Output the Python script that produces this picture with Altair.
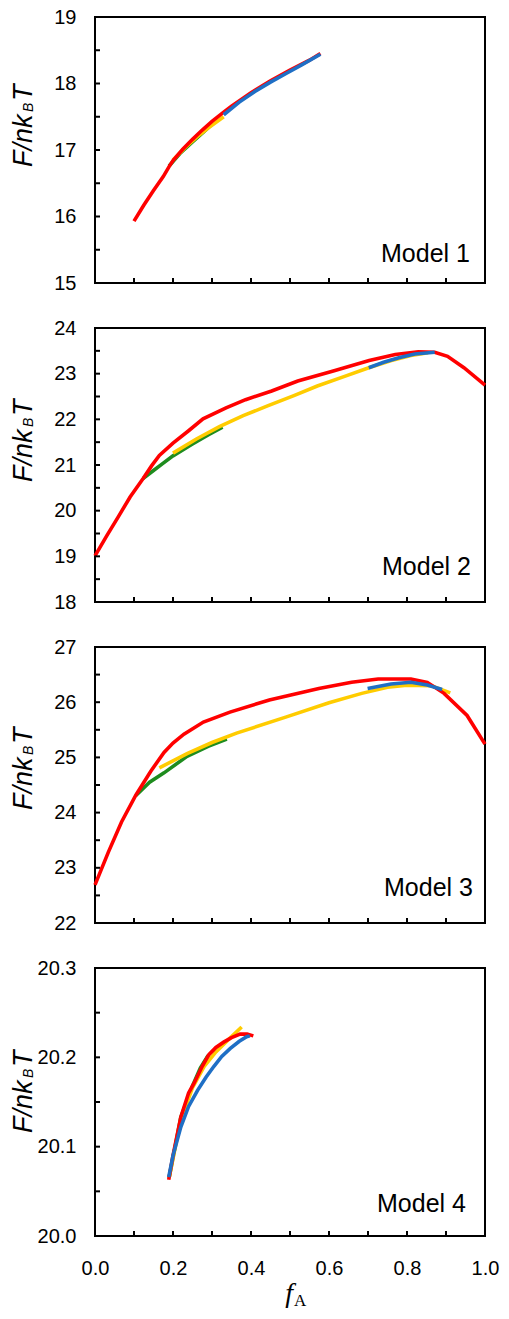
import altair as alt
import pandas as pd

# ---------------- data ----------------
# Model 1
m1_red_f = [0.10, 0.125, 0.15, 0.175, 0.19, 0.20, 0.225, 0.25, 0.275, 0.30, 0.33, 0.35, 0.40, 0.43, 0.45, 0.50, 0.55, 0.578]
m1_red_F = [15.93, 16.17, 16.39, 16.60, 16.75, 16.84, 17.01, 17.16, 17.30, 17.43, 17.57, 17.66, 17.86, 17.97, 18.04, 18.20, 18.35, 18.45]
m1_green_f = [0.19, 0.22, 0.25, 0.28, 0.30]
m1_green_F = [16.76, 16.96, 17.12, 17.28, 17.39]
m1_yellow_f = [0.20, 0.23, 0.26, 0.29, 0.33]
m1_yellow_F = [16.85, 17.03, 17.19, 17.33, 17.50]
m1_blue_f = [0.33, 0.37, 0.41, 0.45, 0.49, 0.53, 0.578]
m1_blue_F = [17.53, 17.72, 17.88, 18.02, 18.15, 18.28, 18.44]

# Model 2
m2_red_f = [0.0, 0.03, 0.06, 0.09, 0.123, 0.145, 0.165, 0.20, 0.24, 0.277, 0.336, 0.386, 0.453, 0.52, 0.611, 0.703, 0.77, 0.829, 0.871, 0.904, 0.946, 1.0]
m2_red_F = [19.01, 19.45, 19.87, 20.30, 20.70, 20.98, 21.21, 21.48, 21.75, 22.01, 22.25, 22.43, 22.62, 22.84, 23.06, 23.29, 23.42, 23.48, 23.47, 23.38, 23.13, 22.75]
m2_green_f = [0.123, 0.15, 0.175, 0.20, 0.25, 0.29, 0.327]
m2_green_F = [20.70, 20.88, 21.04, 21.20, 21.46, 21.66, 21.83]
m2_yellow_f = [0.20, 0.26, 0.319, 0.38, 0.444, 0.51, 0.57, 0.64, 0.702, 0.76, 0.81, 0.854]
m2_yellow_F = [21.26, 21.57, 21.84, 22.08, 22.30, 22.52, 22.73, 22.94, 23.13, 23.29, 23.40, 23.46]
m2_blue_f = [0.702, 0.74, 0.779, 0.82, 0.871]
m2_blue_F = [23.13, 23.25, 23.35, 23.43, 23.47]

# Model 3
m3_red_f = [0.0, 0.034, 0.068, 0.105, 0.143, 0.177, 0.20, 0.228, 0.278, 0.346, 0.447, 0.574, 0.658, 0.726, 0.81, 0.852, 0.895, 0.954, 1.0]
m3_red_F = [22.69, 23.28, 23.83, 24.32, 24.75, 25.09, 25.26, 25.42, 25.64, 25.82, 26.04, 26.25, 26.36, 26.42, 26.42, 26.36, 26.16, 25.76, 25.24]
m3_green_f = [0.105, 0.14, 0.177, 0.236, 0.29, 0.338]
m3_green_F = [24.31, 24.55, 24.72, 25.02, 25.20, 25.33]
m3_yellow_f = [0.165, 0.236, 0.30, 0.363, 0.489, 0.60, 0.684, 0.75, 0.80, 0.861, 0.911]
m3_yellow_F = [24.81, 25.07, 25.27, 25.44, 25.73, 25.99, 26.16, 26.27, 26.31, 26.30, 26.17]
m3_blue_f = [0.699, 0.759, 0.81, 0.852, 0.89]
m3_blue_F = [26.25, 26.33, 26.36, 26.31, 26.23]

# Model 4
m4_red_f = [0.189, 0.20, 0.22, 0.24, 0.254, 0.275, 0.292, 0.31, 0.33, 0.35, 0.372, 0.39, 0.406]
m4_red_F = [20.063, 20.09, 20.133, 20.16, 20.171, 20.19, 20.203, 20.211, 20.217, 20.222, 20.226, 20.226, 20.224]
m4_green_f = [0.19, 0.22, 0.25, 0.27, 0.29]
m4_green_F = [20.065, 20.133, 20.168, 20.188, 20.202]
m4_yellow_f = [0.19, 0.22, 0.25, 0.28, 0.31, 0.34, 0.376]
m4_yellow_F = [20.065, 20.13, 20.166, 20.19, 20.206, 20.219, 20.234]
m4_blue_f = [0.189, 0.20, 0.22, 0.24, 0.263, 0.285, 0.305, 0.325, 0.347, 0.37, 0.389, 0.397]
m4_blue_F = [20.066, 20.09, 20.122, 20.145, 20.163, 20.178, 20.19, 20.201, 20.21, 20.218, 20.223, 20.224]

model_labels = ["Model 1", "Model 2", "Model 3", "Model 4"]
y_domains = [[15, 19], [18, 24], [22, 27], [20.0, 20.3]]
y_label_values = [[15, 16, 17, 18, 19], [18, 19, 20, 21, 22, 23, 24],
                  [22, 23, 24, 25, 26, 27], [20.0, 20.1, 20.2, 20.3]]
y_tick_values = [[15, 15.5, 16, 16.5, 17, 17.5, 18, 18.5, 19],
                 [18, 18.5, 19, 19.5, 20, 20.5, 21, 21.5, 22, 22.5, 23, 23.5, 24],
                 [22, 22.5, 23, 23.5, 24, 24.5, 25, 25.5, 26, 26.5, 27],
                 [20.0, 20.05, 20.1, 20.15, 20.2, 20.25, 20.3]]
y_formats = ["d", "d", "d", ".1f"]
x_label_values = [0.0, 0.2, 0.4, 0.6, 0.8, 1.0]
x_tick_values = [0.0, 0.1, 0.2, 0.3, 0.4, 0.5, 0.6, 0.7, 0.8, 0.9, 1.0]

colors = {"green": "#1E8C1E", "yellow": "#FFCC00", "red": "#FF0000", "blue": "#1F6FC5"}
draw_order = ["green", "yellow", "red", "blue"]

series = [
    {"red": (m1_red_f, m1_red_F), "green": (m1_green_f, m1_green_F),
     "yellow": (m1_yellow_f, m1_yellow_F), "blue": (m1_blue_f, m1_blue_F)},
    {"red": (m2_red_f, m2_red_F), "green": (m2_green_f, m2_green_F),
     "yellow": (m2_yellow_f, m2_yellow_F), "blue": (m2_blue_f, m2_blue_F)},
    {"red": (m3_red_f, m3_red_F), "green": (m3_green_f, m3_green_F),
     "yellow": (m3_yellow_f, m3_yellow_F), "blue": (m3_blue_f, m3_blue_F)},
    {"red": (m4_red_f, m4_red_F), "green": (m4_green_f, m4_green_F),
     "yellow": (m4_yellow_f, m4_yellow_F), "blue": (m4_blue_f, m4_blue_F)},
]

# ---------------- layout / style ----------------
W = 390
heights = [266, 274, 276, 268]
label_right = [15, 14, 12, 19]
label_bottom = [21, 27, 27, 24]
title_start = [150, 154, 163, 165]
SANS = "Liberation Sans"
SERIF = "Liberation Serif"


def one_text(txt, **kw):
    return alt.Chart(pd.DataFrame({"t": [txt]})).mark_text(**kw)


def panel(i, bottom=False):
    h = heights[i]
    xs = alt.Scale(domain=[0, 1], nice=False, zero=False)
    ys = alt.Scale(domain=y_domains[i], nice=False, zero=False)
    yaxis = alt.Axis(values=y_label_values[i], format=y_formats[i], ticks=False,
                     domain=False, grid=False, labelPadding=19, title=None,
                     labelFontSize=20, labelFont=SANS, labelColor="black",
                     labelOverlap=False, labelFlush=False)
    if bottom:
        xaxis = alt.Axis(values=x_label_values, format=".1f", ticks=False,
                         domain=False, grid=False, labelPadding=22, title=None,
                         labelFontSize=20, labelFont=SANS, labelColor="black",
                         labelOverlap=False, labelFlush=False)
    else:
        xaxis = None

    layers = []
    for name in draw_order:
        fx, fy = series[i][name]
        df = pd.DataFrame({"f": fx, "F": fy})
        layers.append(
            alt.Chart(df).mark_line(color=colors[name], strokeWidth=3.6)
            .encode(x=alt.X("f:Q", scale=xs, axis=xaxis),
                    y=alt.Y("F:Q", scale=ys, axis=yaxis))
        )
    # inward ticks on the y axis
    layers.append(
        alt.Chart(pd.DataFrame({"F": y_tick_values[i]})).mark_rule(color="black", strokeWidth=2)
        .encode(y=alt.Y("F:Q", scale=ys, axis=yaxis), x=alt.value(0), x2=alt.value(5))
    )
    # inward ticks on the x axis
    layers.append(
        alt.Chart(pd.DataFrame({"f": x_tick_values})).mark_rule(color="black", strokeWidth=2)
        .encode(x=alt.X("f:Q", scale=xs, axis=xaxis), y=alt.value(h), y2=alt.value(h - 5))
    )
    # model label
    layers.append(
        one_text(model_labels[i], align="right", baseline="alphabetic", fontSize=25,
                 font=SANS, color="black")
        .encode(text="t:N", x=alt.value(W - label_right[i]), y=alt.value(h - label_bottom[i]))
    )
    # y title  F/nk_B T
    t0 = title_start[i]
    common = dict(angle=270, align="left", baseline="alphabetic", font=SANS,
                  fontStyle="italic", color="black")
    layers.append(one_text("F/nk", fontSize=27, **common)
                  .encode(text="t:N", x=alt.value(-63), y=alt.value(t0)))
    layers.append(one_text("B", fontSize=14, **common)
                  .encode(text="t:N", x=alt.value(-62), y=alt.value(t0 - 55)))
    layers.append(one_text("T", fontSize=27, **common)
                  .encode(text="t:N", x=alt.value(-63), y=alt.value(t0 - 66)))
    if bottom:
        layers.append(one_text("f", fontSize=28, font=SERIF, fontStyle="italic",
                               align="right", baseline="alphabetic", color="black")
                      .encode(text="t:N", x=alt.value(W / 2 + 3), y=alt.value(h + 66)))
        layers.append(one_text("A", fontSize=17, font=SERIF, align="left",
                               baseline="alphabetic", color="black")
                      .encode(text="t:N", x=alt.value(W / 2 + 4), y=alt.value(h + 70)))
    return alt.layer(*layers).properties(width=W, height=h)


chart = alt.vconcat(
    panel(0), panel(1), panel(2), panel(3, bottom=True), spacing=23
).properties(
    padding={"left": 1, "top": -2, "right": 0, "bottom": 0}
).configure_view(stroke="black", strokeWidth=2)

chart.save("out.html", embed_options={"renderer": "svg", "actions": False})
